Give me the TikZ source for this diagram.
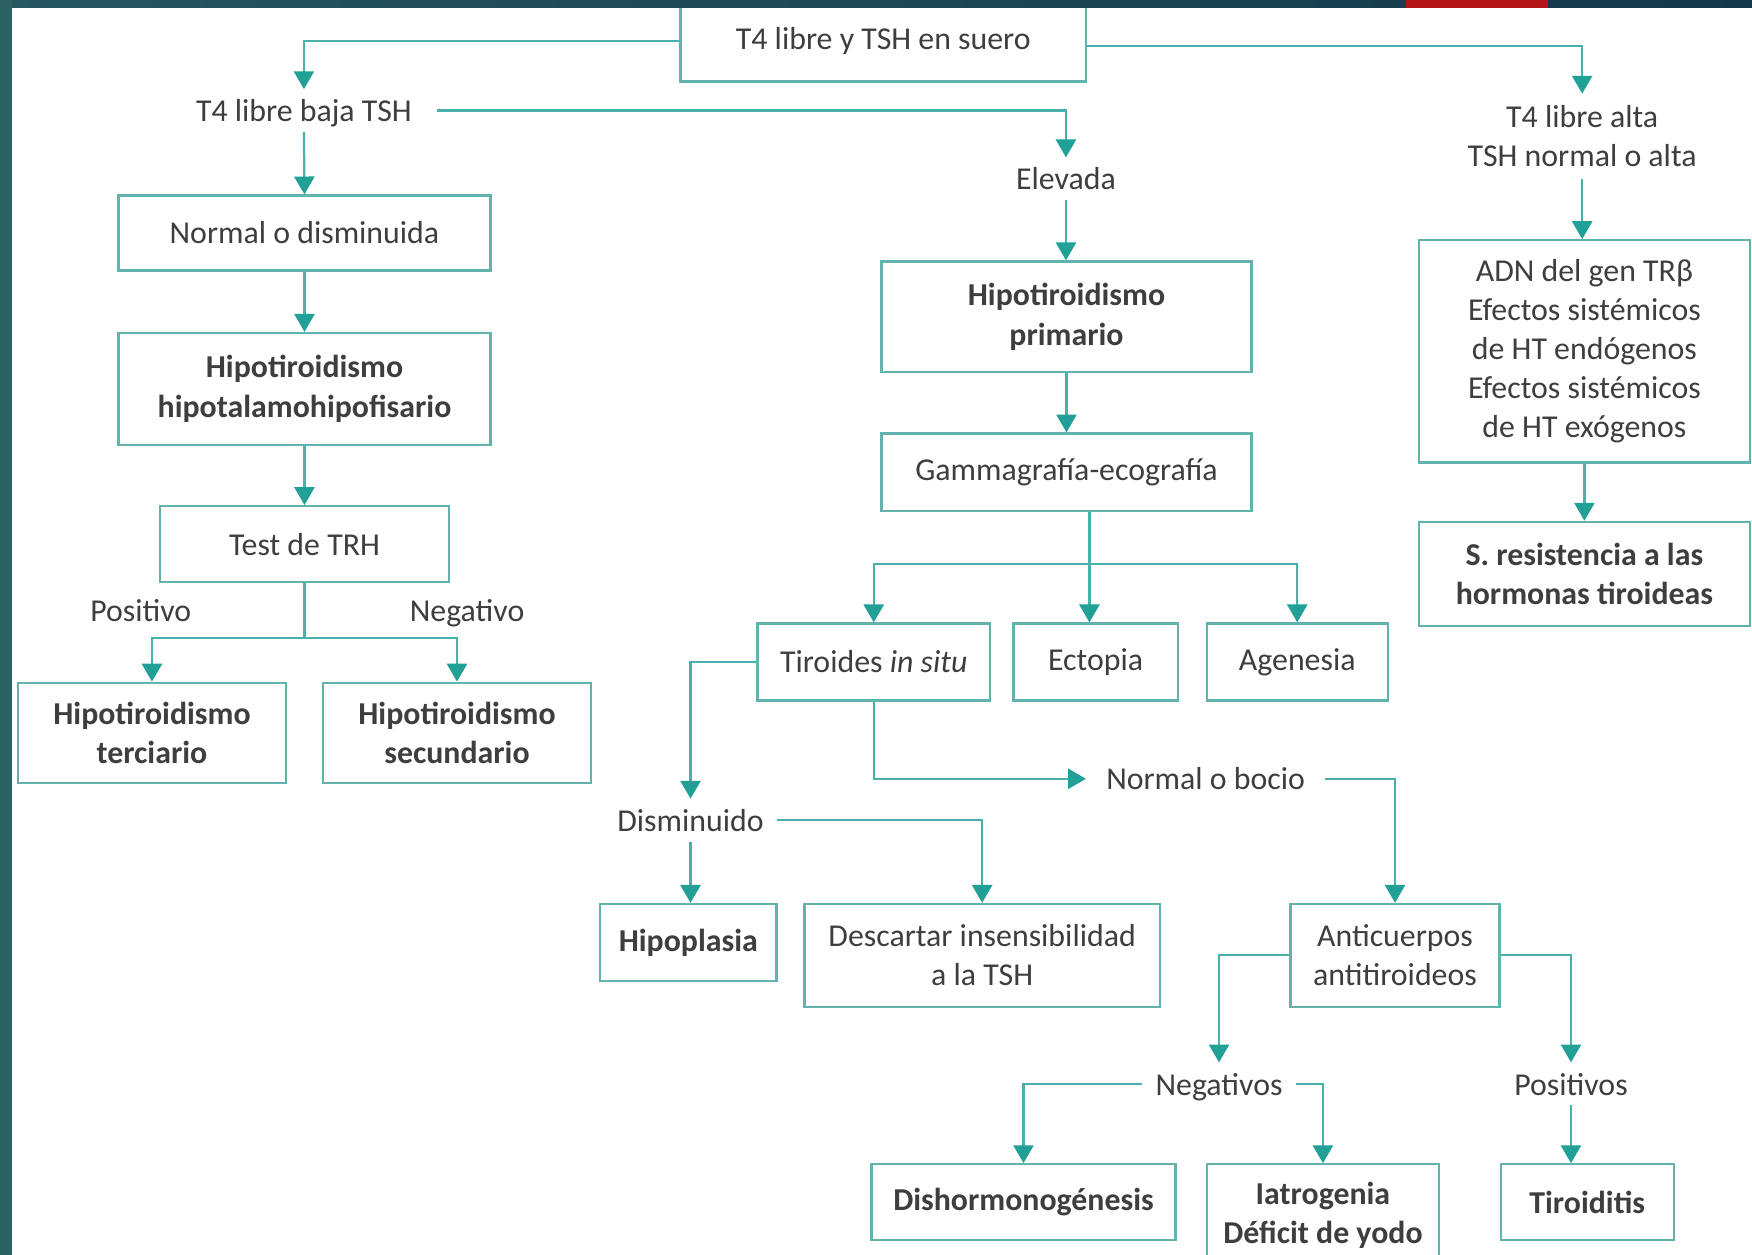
\documentclass[tikz,border=0pt]{standalone}
\usepackage{fontspec}
\setmainfont{Carlito}
\usetikzlibrary{arrows.meta}
\definecolor{lnc}{RGB}{72,178,170}
\definecolor{bxc}{RGB}{98,178,174}
\definecolor{tipc}{RGB}{32,160,150}
\definecolor{txc}{RGB}{62,62,62}
\definecolor{bandL}{RGB}{44,98,100}
\definecolor{bandTa}{RGB}{38,86,94}
\definecolor{bandTb}{RGB}{20,56,74}
\definecolor{redbar}{RGB}{180,20,22}
\begin{document}
\begin{tikzpicture}[x=1pt,y=-1pt,
  every node/.style={font=\fontsize{28.5}{35}\selectfont, text=txc},
  bx/.style={draw=bxc, line width=2pt, fill=white, align=center, inner sep=0pt},
  bb/.style={bx, font=\fontsize{28.5}{35}\selectfont\bfseries},
  lb/.style={align=center, inner xsep=12pt, inner ysep=0pt, minimum height=38pt},
  lbs/.style={lb, text height=23pt, text depth=3pt},
  ln/.style={draw=lnc, line width=2pt},
  arr/.style={ln, -{Triangle[width=18pt,length=16pt,color=tipc]}}
]
\useasboundingbox (0,0) rectangle (1568,1123);
\fill[white] (0,0) rectangle (1568,1123);

\node[bx, minimum width=363, minimum height=72] (A) at (790.5,37) {T4 libre y TSH en suero};
\node[lbs, inner xsep=22pt] (lbaja) at (272,99) {T4 libre baja TSH};
\node[lbs] (elev) at (954,160) {Elevada};
\node[lb, minimum height=76] (lalta) at (1416,122) {T4 libre alta\\TSH normal o alta};

\node[bx, minimum width=333, minimum height=67] (nd) at (272.5,208.5) {Normal o disminuida};
\node[bb, minimum width=333, minimum height=100] (hh) at (272.5,348) {Hipotiroidismo\\hipotalamohipofisario};
\node[bx, minimum width=259, minimum height=68] (trh) at (272.5,487) {Test de TRH};
\node[lbs] (lpos) at (126,546) {Positivo};
\node[lbs] (lneg) at (418,546) {Negativo};
\node[bb, minimum width=240, minimum height=90] (ter) at (136,656) {Hipotiroidismo\\terciario};
\node[bb, minimum width=240, minimum height=90] (sec) at (409,656) {Hipotiroidismo\\secundario};

\node[bb, minimum width=331, minimum height=99] (hp) at (954.5,283.5) {Hipotiroidismo\\primario};
\node[bx, minimum width=331, minimum height=69] (gam) at (954.5,422.5) {Gammagrafía-ecografía};
\node[bx, minimum width=208, minimum height=69] (tis) at (782,592.5) {Tiroides \textit{in situ}};
\node[bx, minimum width=147, minimum height=69] (ect) at (980.5,592.5) {Ectopia};
\node[bx, minimum width=162, minimum height=69] (age) at (1161,592.5) {Agenesia};
\node[lbs, inner xsep=18pt] (boc) at (1079,697) {Normal o bocio};
\node[lbs] (dism) at (618,734) {Disminuido};
\node[bb, minimum width=158, minimum height=69] (hipo) at (616,843.5) {Hipoplasia};
\node[bx, minimum width=318, minimum height=92] (desc) at (879,855) {Descartar insensibilidad\\a la TSH};
\node[bx, minimum width=187, minimum height=92] (anti) at (1248.5,855) {Anticuerpos\\antitiroideos};
\node[lbs] (neg) at (1091,970) {Negativos};
\node[lbs] (pos) at (1406,970) {Positivos};
\node[bb, minimum width=272, minimum height=68] (dish) at (916,1076) {Dishormonogénesis};
\node[bb, minimum width=208, minimum height=92] (iat) at (1184,1088) {Iatrogenia\\Déficit de yodo};
\node[bb, minimum width=155, minimum height=68] (tir) at (1420.5,1076) {Tiroiditis};

\node[bx, minimum width=296, minimum height=199] (adn) at (1418,314.5) {ADN del gen TRβ\\Efectos sistémicos\\de HT endógenos\\Efectos sistémicos\\de HT exógenos};
\node[bb, minimum width=296, minimum height=93] (sres) at (1418,513.5) {S. resistencia a las\\hormonas tiroideas};

% connectors
\draw[arr] (A.west) -| (lbaja.north);
\draw[arr] ([yshift=-4pt]A.east) -| (lalta.north);
\draw[arr] (lbaja.east) -| (elev.north);
\draw[arr] (lbaja.south) -- (nd.north);
\draw[arr] (nd.south) -- (hh.north);
\draw[arr] (hh.south) -- (trh.north);
\draw[ln] (trh.south) -- ++(0,49) coordinate (t1);
\draw[arr] (t1) -| (ter.north);
\draw[arr] (t1) -| (sec.north);
\draw[arr] (elev.south) -- (elev.south |- hp.north);
\draw[arr] (hp.south) -- (gam.north);
\coordinate (g1) at (975,505);
\draw[arr] (gam.south -| g1) -- (ect.north -| g1);
\draw[arr] (g1) -| (tis.north);
\draw[arr] (g1) -| (age.north);
\draw[arr] (tis.west) -| (dism.north);
\draw[arr] (tis.south) |- (boc.west);
\draw[arr] (boc.east) -| (anti.north);
\draw[arr] (dism.south) -- (dism.south |- hipo.north);
\draw[arr] (dism.east) -| (desc.north);
\draw[arr] (anti.west) -| (neg.north);
\draw[arr] (anti.east) -| (pos.north);
\draw[arr] (neg.west) -| (dish.north);
\draw[arr] (neg.east) -| (iat.north);
\draw[arr] (pos.south) -- (pos.south |- tir.north);
\draw[arr] (lalta.south) -- (lalta.south |- adn.north);
\draw[arr] (adn.south) -- (sres.north);

% frame
\shade[left color=bandTa, right color=bandTb] (0,0) rectangle (1568,7);
\fill[redbar] (1258,0) rectangle (1385,7);
\fill[bandL] (0,0) rectangle (11,1123);
\end{tikzpicture}
\end{document}
